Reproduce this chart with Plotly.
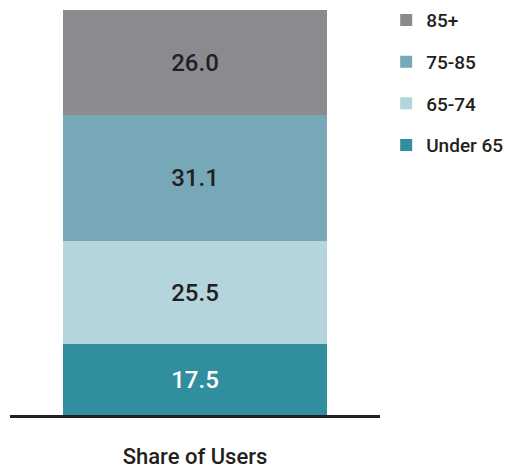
import plotly.graph_objects as go

categories = ["Share of Users"]
series_names = ["Under 65", "65-74", "75-85", "85+"]
series_values = [[17.5], [25.5], [31.1], [26.0]]
colors = ["#318e9e", "#b5d5dc", "#76a8b8", "#8b8b8f"]
label_colors = ["#ffffff", "#231f20", "#231f20", "#231f20"]
legend_ranks = [4, 3, 2, 1]

FONT = "Roboto, Lato, sans-serif"

fig = go.Figure()
for name, vals, col, lc, rk in zip(series_names, series_values, colors, label_colors, legend_ranks):
    fig.add_trace(go.Bar(
        x=categories, y=vals, name=name, legendgroup=name, legendrank=rk,
        marker=dict(color=col, line=dict(width=0)),
        width=0.716,
        texttemplate="%{y:.1f}", textposition="inside", insidetextanchor="middle",
        textfont=dict(family=FONT, size=24, color=lc, weight=500),
        hoverinfo="skip",
    ))

fig.update_layout(
    width=509, height=462,
    barmode="stack",
    margin=dict(l=2, r=137, t=2, b=55, autoexpand=False),
    paper_bgcolor="white", plot_bgcolor="white",
    font=dict(family=FONT, color="#231f20"),
    showlegend=True,
    legend=dict(
        traceorder="grouped", tracegroupgap=14,
        xref="container", x=0.743, xanchor="left",
        yref="paper", y=1.022, yanchor="top",
        font=dict(family=FONT, size=19, color="#231f20", weight=500),
        bgcolor="rgba(0,0,0,0)",
    ),
    xaxis=dict(
        range=[-0.5, 0.5],
        showline=True, linecolor="#231f20", linewidth=3,
        showticklabels=False, ticks="", showgrid=False, zeroline=False,
        title=dict(text="Share of Users", font=dict(family=FONT, size=22, color="#231f20", weight=500), standoff=32),
    ),
    yaxis=dict(
        range=[0, 100.1], visible=False, showgrid=False, zeroline=False,
    ),
)

fig.write_html("out.html")
